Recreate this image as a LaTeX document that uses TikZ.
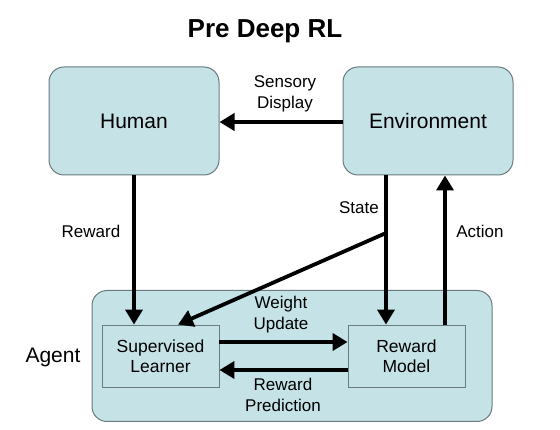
\documentclass[tikz,border=0pt]{standalone}
\usepackage{fontspec}
\setmainfont{Liberation Sans}
\usetikzlibrary{arrows.meta}
\definecolor{boxfill}{HTML}{C5E2E6}
\definecolor{boxline}{HTML}{6A7B7E}
\begin{document}
\begin{tikzpicture}[x=1pt,y=-1pt,
  bigbox/.style={draw=boxline,line width=1pt,fill=boxfill,rounded corners=15pt,inner sep=0pt},
  smallbox/.style={draw=boxline,line width=0.9pt,fill=boxfill,inner sep=0pt,align=center,font=\fontsize{17.5}{20}\selectfont},
  conn/.style={line width=3.8pt,-{Triangle[length=15pt,width=17pt]}},
  lbl/.style={font=\fontsize{17}{21}\selectfont,align=center,inner sep=0pt}]
\useasboundingbox (0,0) rectangle (560,430);
\node[font=\fontsize{26}{30}\selectfont\bfseries] (title) at (265,31) {Pre Deep RL};
\node[bigbox,minimum width=170pt,minimum height=108pt,font=\fontsize{21}{25}\selectfont] (human) at (134,121) {Human};
\node[bigbox,minimum width=170pt,minimum height=108pt,font=\fontsize{21}{25}\selectfont] (env) at (428,121) {Environment};
\node[bigbox,minimum width=400pt,minimum height=131pt] (agent) at (292,356) {};
\node[font=\fontsize{21}{25}\selectfont] (agentlbl) at (53,357) {Agent};
\node[smallbox,minimum width=117pt,minimum height=62pt] (sl) at (160.5,356) {Supervised\\Learner};
\node[smallbox,minimum width=117pt,minimum height=62pt] (rm) at (406.5,356) {Reward\\Model};
% Sensory display
\draw[conn] (env.west |- 0,122) -- (human.east |- 0,122);
\node[lbl] (sd) at (285,94) {Sensory\\Display};
% Reward
\draw[conn] (human.south -| 134,0) -- (sl.north -| 134,0);
\node[lbl] (rwl) at (91,231) {Reward};
% State
\draw[conn] (env.south -| 386,0) -- (rm.north -| 386,0);
\node[lbl] (stl) at (359,208) {State};
\coordinate (br) at (386,233);
\draw[conn] (br) -- (sl.north -| 178,0);
% Action
\draw[conn] (rm.north -| 445,0) -- (env.south -| 445,0);
\node[lbl] (acl) at (480,231) {Action};
% Weight update
\draw[conn] (sl.east |- 0,342) -- (rm.west |- 0,342);
\node[lbl] (wul) at (281,315) {Weight\\Update};
% Reward prediction
\draw[conn] (rm.west |- 0,370) -- (sl.east |- 0,370);
\node[lbl] (rpl) at (283,395) {Reward\\Prediction};
\end{tikzpicture}
\end{document}
